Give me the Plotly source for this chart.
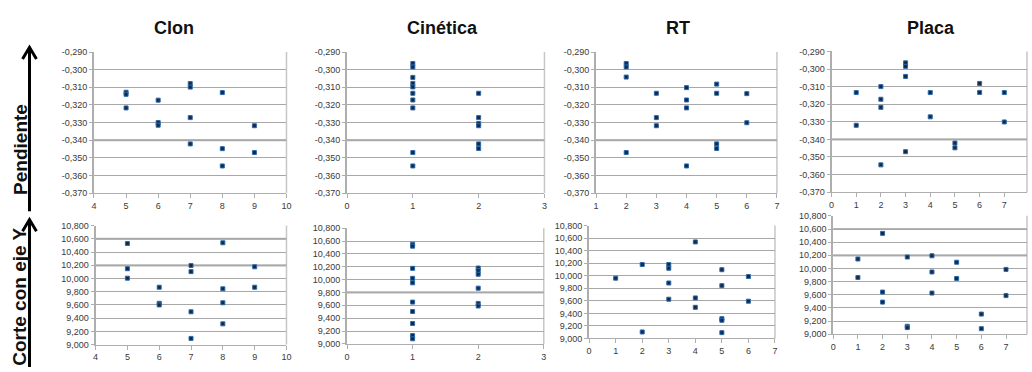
import plotly.graph_objects as go

# ---------------- data ----------------
panel_titles = ["Clon", "Cinética", "RT", "Placa"]
row_titles = ["Pendiente", "Corte con eje Y"]

# Pendiente (slope)
clon_x = [5, 5, 5, 6, 6, 6, 7, 7, 7, 7, 8, 8, 8, 9, 9]
clon_pend = [-0.3128, -0.3140, -0.3217, -0.3173, -0.3300, -0.3315, -0.3079, -0.3099,
             -0.3272, -0.3421, -0.3130, -0.3448, -0.3546, -0.3318, -0.3470]

cin_x = [1, 1, 1, 1, 1, 1, 1, 1, 1, 1, 2, 2, 2, 2, 2, 2]
cin_pend = [-0.2965, -0.2985, -0.3044, -0.3078, -0.3098, -0.3134, -0.3172, -0.3217,
            -0.3470, -0.3546, -0.3134, -0.3272, -0.3305, -0.3318, -0.3421, -0.3447]

rt_x = [2, 2, 2, 2, 3, 3, 3, 4, 4, 4, 4, 5, 5, 5, 5, 6, 6]
rt_pend = [-0.2965, -0.2985, -0.3042, -0.3470, -0.3134, -0.3272, -0.3318, -0.3102,
           -0.3172, -0.3217, -0.3546, -0.3082, -0.3134, -0.3421, -0.3447, -0.3136, -0.3301]

placa_x = [1, 1, 2, 2, 2, 2, 3, 3, 3, 3, 4, 4, 5, 5, 6, 6, 7, 7]
placa_pend = [-0.3134, -0.3320, -0.3100, -0.3172, -0.3218, -0.3545, -0.2965, -0.2985,
              -0.3042, -0.3470, -0.3134, -0.3272, -0.3421, -0.3448, -0.3082, -0.3133,
              -0.3134, -0.3301]

# Corte con eje Y (intercept)
clon_x2 = [5, 5, 5, 6, 6, 6, 7, 7, 7, 7, 8, 8, 8, 8, 9, 9]
clon_corte = [10.530, 10.148, 10.005, 9.868, 9.625, 9.600, 10.197, 10.104, 9.496, 9.094,
              10.540, 9.844, 9.633, 9.314, 10.177, 9.868]

cin_x2 = [1, 1, 1, 1, 1, 1, 1, 1, 1, 1, 2, 2, 2, 2, 2, 2]
cin_corte = [10.550, 10.520, 10.175, 10.020, 9.950, 9.650, 9.504, 9.318, 9.130, 9.080,
             10.180, 10.140, 10.084, 9.867, 9.630, 9.590]

rt_x2 = [1, 2, 2, 3, 3, 3, 3, 4, 4, 4, 5, 5, 5, 5, 5, 6, 6]
rt_corte = [9.962, 10.180, 9.104, 10.180, 10.120, 9.885, 9.626, 10.540, 9.647, 9.497,
            10.097, 9.843, 9.316, 9.290, 9.093, 9.988, 9.595]

placa_x2 = [1, 1, 2, 2, 2, 3, 3, 3, 4, 4, 4, 5, 5, 6, 6, 7, 7]
placa_corte = [10.144, 9.863, 10.534, 9.641, 9.488, 10.174, 9.120, 9.100, 10.193, 9.947,
               9.626, 10.095, 9.848, 9.306, 9.084, 9.986, 9.587]

pend_ticks = [-0.37, -0.36, -0.35, -0.34, -0.33, -0.32, -0.31, -0.30, -0.29]
corte_ticks = [9.0, 9.2, 9.4, 9.6, 9.8, 10.0, 10.2, 10.4, 10.6, 10.8]

series = [
    (clon_x, clon_pend), (cin_x, cin_pend), (rt_x, rt_pend), (placa_x, placa_pend),
    (clon_x2, clon_corte), (cin_x2, cin_corte), (rt_x2, rt_corte), (placa_x2, placa_corte),
]

# ---------------- layout geometry (pixels) ----------------
W, H = 1032, 372
# (x0, x1, ytop, ybottom) of each plot area
boxes = [
    (91.7, 285.7, 48.3, 193.3), (346.7, 545.7, 48.3, 193.3),
    (597.7, 780.0, 48.3, 193.3), (835.0, 1032.0, 47.7, 192.3),
    (93.3, 285.7, 226.7, 349.0), (346.7, 545.0, 229.3, 348.3),
    (590.7, 778.0, 226.7, 342.7), (836.7, 1032.0, 216.7, 338.3),
]
x_ranges = [[4, 10], [0, 3], [1, 7], [0, 7.92],
            [4, 10], [0, 3], [0, 7], [0, 7.85]]
x_tickvals = [list(range(4, 11)), list(range(0, 4)), list(range(1, 8)), list(range(0, 8)),
              list(range(4, 11)), list(range(0, 4)), list(range(0, 8)), list(range(0, 8))]
# gridlines rendered heavier in each panel
heavy_grid = [[-0.34], [-0.34], [-0.34], [-0.34],
              [10.6, 10.2], [9.8], [], [10.6, 10.2]]

GRID = "#a8a8a8"
AXIS = "#aeaeae"
TICKFONT = dict(family="Liberation Sans, Arial, sans-serif", size=9, color="#3a3a3a")

fig = go.Figure()
layout = dict(width=W, height=H, margin=dict(l=0, r=0, t=0, b=0),
              paper_bgcolor="white", plot_bgcolor="white", showlegend=False)
shapes = []
annotations = []

for i, ((xs, ys), (px0, px1, pyt, pyb)) in enumerate(zip(series, boxes)):
    n = i + 1
    sfx = "" if n == 1 else str(n)
    fig.add_trace(go.Scatter(
        x=xs, y=ys, mode="markers", xaxis="x" + sfx, yaxis="y" + sfx,
        marker=dict(symbol="square", size=4, color="#10284a",
                    line=dict(width=1, color="#2f6aa8")),
        hoverinfo="x+y"))

    row1 = i < 4
    yt = pend_ticks if row1 else corte_ticks
    ytext = [f"{v:.3f}".replace(".", ",") for v in yt]
    yr = [-0.37, -0.29] if row1 else [9.0, 10.8]

    layout["xaxis" + sfx] = dict(
        domain=[px0 / W, px1 / W], range=x_ranges[i], anchor="y" + sfx,
        tickvals=x_tickvals[i], ticktext=[str(v) for v in x_tickvals[i]],
        showgrid=False, zeroline=False, showline=True, linecolor=AXIS, linewidth=1,
        ticks="outside", ticklen=4, tickcolor=AXIS, tickwidth=1, tickfont=TICKFONT)
    layout["yaxis" + sfx] = dict(
        domain=[1 - pyb / H, 1 - pyt / H], range=yr, anchor="x" + sfx,
        tickvals=yt, ticktext=ytext,
        showgrid=True, gridcolor=GRID, gridwidth=1, zeroline=False,
        showline=True, linecolor=AXIS, linewidth=2,
        ticks="outside", ticklen=3, tickcolor=AXIS, tickwidth=1, tickfont=TICKFONT)

    # right border of the plot area
    shapes.append(dict(type="line", xref=f"x{sfx} domain", yref=f"y{sfx} domain",
                       x0=1, x1=1, y0=0, y1=1, line=dict(color="#c6c6c6", width=1.5),
                       layer="below"))
    for gv in heavy_grid[i]:
        shapes.append(dict(type="line", xref=f"x{sfx} domain", yref="y" + sfx,
                           x0=0, x1=1, y0=gv, y1=gv, line=dict(color="#b4b4b4", width=2.2),
                           layer="below"))

# column titles
title_cx = [172, 443, 680, 935]
for t, cx in zip(panel_titles, title_cx):
    annotations.append(dict(text=f"<b>{t}</b>", x=cx / W, y=1 - 24 / H, xref="paper",
                            yref="paper", showarrow=False, xanchor="center", yanchor="middle",
                            font=dict(family="Liberation Sans, Arial, sans-serif", size=18,
                                      color="#111111")))

# row titles (rotated)
row_cy = [148, 300]
for t, cy in zip(row_titles, row_cy):
    annotations.append(dict(text=f"<b>{t}</b>", x=17 / W, y=1 - cy / H, xref="paper",
                            yref="paper", showarrow=False, textangle=-90,
                            xanchor="center", yanchor="middle",
                            font=dict(family="Liberation Sans, Arial, sans-serif", size=19,
                                      color="#111111")))


def px(x, y):
    return f"{x / W:.5f},{1 - y / H:.5f}"


# upward arrows beside the row titles
for tip, bottom in [(43.5, 212), (220.5, 372)]:
    ax = 26.7
    shapes.append(dict(type="line", xref="paper", yref="paper",
                       x0=ax / W, x1=ax / W, y0=1 - bottom / H, y1=1 - (tip + 1) / H,
                       line=dict(color="black", width=3)))
    shapes.append(dict(type="path", xref="paper", yref="paper",
                       path=f"M{px(ax - 7, tip + 12)} L{px(ax, tip)} L{px(ax + 7, tip + 12)}",
                       line=dict(color="black", width=3)))

layout["shapes"] = shapes
layout["annotations"] = annotations
fig.update_layout(**layout)
fig.write_html("out.html")
